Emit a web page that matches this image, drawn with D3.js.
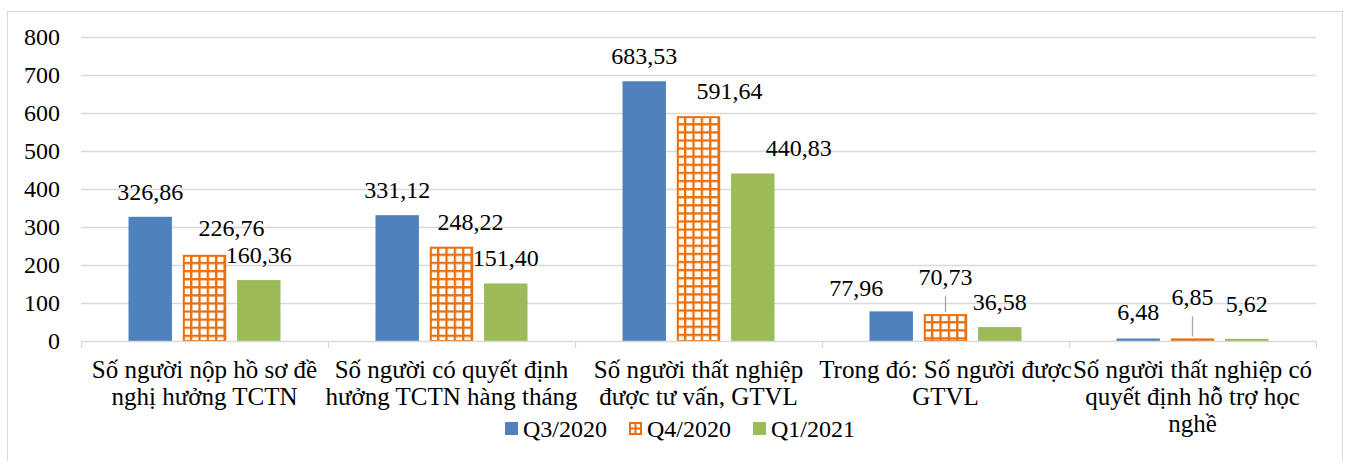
<!DOCTYPE html>
<html>
<head>
<meta charset="utf-8">
<script src="https://cdn.jsdelivr.net/npm/d3@7"></script>
<style>
  html, body { margin: 0; padding: 0; background: #fff; }
  svg { display: block; }
  svg text { font-family: "Liberation Serif", Tinos, "Times New Roman", Times, serif; fill: #000; }
</style>
</head>
<body>
<svg id="chart" width="1347" height="461"></svg>
<script>
// ---- data ----
const categories = [
  "Số người nộp hồ sơ đề\nnghị hưởng TCTN",
  "Số người có quyết định\nhưởng TCTN hàng tháng",
  "Số người thất nghiệp\nđược tư vấn, GTVL",
  "Trong đó: Số người được\nGTVL",
  "Số người thất nghiệp có\nquyết định hỗ trợ học\nnghề"
];
const seriesNames = ["Q3/2020", "Q4/2020", "Q1/2021"];
const q3_2020 = [326.86, 331.12, 683.53, 77.96, 6.48];
const q4_2020 = [226.76, 248.22, 591.64, 70.73, 6.85];
const q1_2021 = [160.36, 151.40, 440.83, 36.58, 5.62];
const yTicks = [0, 100, 200, 300, 400, 500, 600, 700, 800];

// ---- label nudges (manual label placement in the reference) [dx, dy, leader] ----
const labelNudge = [
  [[0, 0, 0], [0, 0, 0], [0, 0, 0], [-35, 1.5, 0], [0, -1.5, 0]],
  [[27, -2, 0], [19, 0, 0], [31, 0, 0], [0, -12, 1], [0, -16, 1]],
  [[0, 0, 0], [0, 0, 0], [46, 0, 0], [0, 0, 0], [0, -10, 0]]
];

const seriesValues = [q3_2020, q4_2020, q1_2021];
const colors = ["#4F81BD", "#E8700F", "#9BBB59"];
const orange = colors[1];
const FONT = '"Liberation Serif", Tinos, "Times New Roman", Times, serif';

const svg = d3.select("#chart");
const W = 1347, H = 461;
const plot = { left: 81, right: 1316, top: 37, bottom: 341 };

svg.append("rect").attr("width", W).attr("height", H).attr("fill", "#fff");
svg.append("rect")
  .attr("x", 7.5).attr("y", 11.5).attr("width", 1335).attr("height", 470)
  .attr("fill", "none").attr("stroke", "#D9D9D9").attr("stroke-width", 1);

const y = d3.scaleLinear().domain([0, 800]).range([plot.bottom, plot.top]);
const x0 = d3.scaleBand().domain(d3.range(categories.length))
  .range([plot.left, plot.right]).paddingInner(0).paddingOuter(0);
const x1 = d3.scaleBand().domain(d3.range(seriesNames.length))
  .range([0, x0.bandwidth()]).paddingInner(0.2).paddingOuter(0.875);

// gridlines
svg.append("g").selectAll("line").data(yTicks.filter(d => d > 0)).join("line")
  .attr("x1", plot.left).attr("x2", plot.right)
  .attr("y1", d => Math.round(y(d)) + 0.5).attr("y2", d => Math.round(y(d)) + 0.5)
  .attr("stroke", "#D9D9D9").attr("stroke-width", 1.3);

// y axis labels
const yAxis = d3.axisLeft(y).tickValues(yTicks).tickSize(0).tickPadding(0).tickFormat(d3.format("d"));
const gy = svg.append("g").attr("transform", `translate(60,0)`).call(yAxis)
  .attr("font-family", FONT).attr("font-size", 24);
gy.select(".domain").remove();
gy.selectAll("text").attr("font-size", 24).attr("font-family", FONT).attr("fill", "#000").attr("dy", "0.33em");

// patterns
const defs = svg.append("defs");

// bars
seriesNames.forEach((s, si) => {
  categories.forEach((c, ci) => {
    const v = seriesValues[si][ci];
    const bx = x0(ci) + x1(si);
    const bw = x1.bandwidth();
    const by = y(v);
    const bh = y(0) - y(v);
    if (si === 1) {
      const pid = "grid" + ci;
      const p = defs.append("pattern").attr("id", pid)
        .attr("patternUnits", "userSpaceOnUse")
        .attr("x", bx - 1.1).attr("y", by - 1.1)
        .attr("width", bw / 5.2).attr("height", 8.1);
      p.append("rect").attr("width", bw / 5.2).attr("height", 8.1).attr("fill", "#fff");
      p.append("rect").attr("width", 2.3).attr("height", 8.1).attr("fill", orange);
      p.append("rect").attr("width", bw / 5.2).attr("height", 2.3).attr("fill", orange);
      svg.append("rect").attr("x", bx + 1).attr("y", by + 1)
        .attr("width", bw - 2).attr("height", Math.max(0, bh - 1))
        .attr("fill", `url(#${pid})`).attr("stroke", orange).attr("stroke-width", 2);
    } else {
      svg.append("rect").attr("x", bx).attr("y", by)
        .attr("width", bw).attr("height", bh).attr("fill", colors[si]);
    }
  });
});

// x axis line and ticks
svg.append("line").attr("x1", plot.left).attr("x2", plot.right)
  .attr("y1", plot.bottom + 0.5).attr("y2", plot.bottom + 0.5)
  .attr("stroke", "#D9D9D9").attr("stroke-width", 1.3);
const boundaries = d3.range(categories.length + 1).map(i => i < categories.length ? x0(i) : plot.right);
svg.append("g").selectAll("line").data(boundaries).join("line")
  .attr("x1", d => Math.round(d) + 0.5).attr("x2", d => Math.round(d) + 0.5)
  .attr("y1", plot.bottom).attr("y2", plot.bottom + 7)
  .attr("stroke", "#D9D9D9").attr("stroke-width", 1.3);

// category labels
categories.forEach((c, ci) => {
  const t = svg.append("text").attr("text-anchor", "middle").attr("font-size", 25)
    .attr("font-family", FONT)
    .attr("x", x0(ci) + x0.bandwidth() / 2).attr("y", 378);
  c.split("\n").forEach((line, li) => {
    t.append("tspan").attr("x", x0(ci) + x0.bandwidth() / 2).attr("dy", li === 0 ? 0 : 27).text(line);
  });
});

// data labels
const fmt = v => v.toFixed(2).replace(".", ",");
seriesNames.forEach((s, si) => {
  categories.forEach((c, ci) => {
    const v = seriesValues[si][ci];
    const [dx, dy, leader] = labelNudge[si][ci];
    const cx = x0(ci) + x1(si) + x1.bandwidth() / 2;
    const base = y(v) - 17 + dy;
    svg.append("text").attr("text-anchor", "middle").attr("font-size", 24)
      .attr("font-family", FONT)
      .attr("x", cx + dx).attr("y", base).text(fmt(v));
    if (leader) {
      svg.append("line").attr("x1", cx + dx).attr("x2", cx + dx)
        .attr("y1", base + 11).attr("y2", y(v) - 2)
        .attr("stroke", "#A6A6A6").attr("stroke-width", 1.3);
    }
  });
});

// legend
const legend = svg.append("g");
let lx = 505;
seriesNames.forEach((s, si) => {
  const g = legend.append("g");
  if (si === 1) {
    g.append("rect").attr("x", lx + 1).attr("y", 423).attr("width", 11).attr("height", 11)
      .attr("fill", "#fff").attr("stroke", orange).attr("stroke-width", 2);
    g.append("line").attr("x1", lx + 6.5).attr("x2", lx + 6.5).attr("y1", 423).attr("y2", 434)
      .attr("stroke", orange).attr("stroke-width", 2);
    g.append("line").attr("x1", lx + 1).attr("x2", lx + 12).attr("y1", 428.5).attr("y2", 428.5)
      .attr("stroke", orange).attr("stroke-width", 2);
  } else {
    g.append("rect").attr("x", lx).attr("y", 422).attr("width", 13).attr("height", 13)
      .attr("fill", colors[si]);
  }
  const t = g.append("text").attr("x", lx + 18).attr("y", 437).attr("font-size", 24)
    .attr("font-family", FONT).text(s);
  lx += 18 + t.node().getComputedTextLength() + 22;
});
</script>
</body>
</html>
